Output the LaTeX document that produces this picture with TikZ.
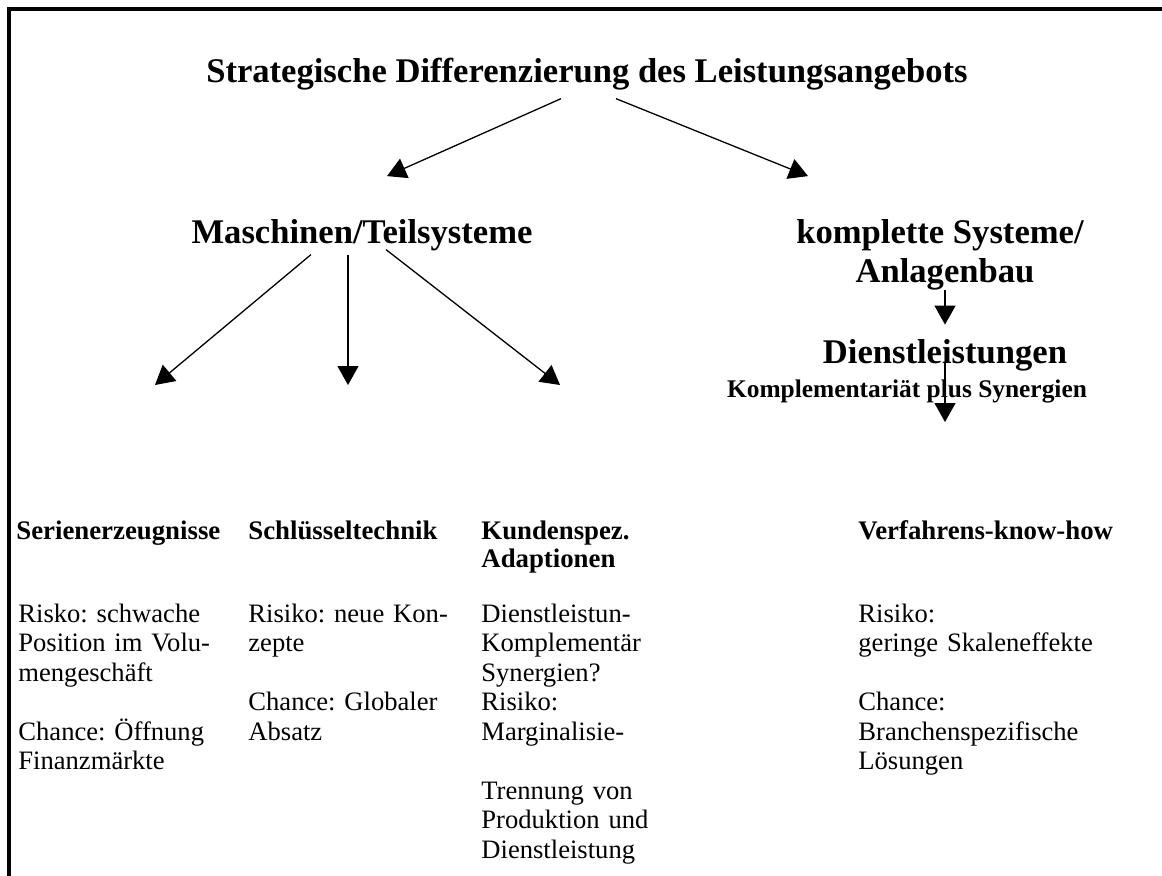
\documentclass[tikz,border=0pt]{standalone}
\usepackage{fontspec}
\setmainfont{Liberation Serif}
\usetikzlibrary{arrows.meta}
\frenchspacing

\begin{document}
\begin{tikzpicture}[x=0.5pt, y=-0.5pt,
    kopf/.style={font=\bfseries\fontsize{17.3}{20}\selectfont, inner sep=0pt, anchor=base},
    spalte/.style={font=\bfseries\fontsize{13.4}{14}\selectfont, inner sep=0pt, anchor=base west, text width=150pt, align=left},
    rumpf/.style={font=\fontsize{13.3}{14.75}\selectfont, inner sep=0pt, anchor=base west, text width=130pt, align=left},
    pfeil/.style={-{Triangle[length=9.5pt,width=10.5pt]}, line width=0.65pt}]

    \useasboundingbox (0,0) rectangle (1162,875);

    % rahmen
    \draw[line width=2.2pt] (8.8,900) -- (8.8,8.8) -- (1200,8.8);

    % oberste ebene
    \node[kopf] (titel) at (587,82) {Strategische Differenzierung des Leistungsangebots};
    \node[kopf] (maschinen) at (362,243) {Maschinen/Teilsysteme};
    \node[kopf] (komplett) at (940,243) {komplette Systeme/};
    \node[kopf] (anlagen) at (945,282) {Anlagenbau};
    \node[kopf] (dienst) at (945,363) {Dienstleistungen};
    \node[kopf, font=\bfseries\fontsize{12.7}{14}\selectfont] (synergie) at (907,397) {Komplementariät plus Synergien};

    \draw[pfeil] ([xshift=-13pt,yshift=-4.3pt]titel.south) -- ([xshift=12.5pt,yshift=21.25pt]maschinen.north);
    \draw[pfeil] ([xshift=14.5pt,yshift=-4.3pt]titel.south) -- ([xshift=-66pt,yshift=21.25pt]komplett.north);

    % maschinen
    \coordinate (serie) at (155,385);
    \coordinate (schluessel) at (348,385);
    \coordinate (kunde) at (560,385);
    \draw[pfeil] ([xshift=-25.5pt,yshift=-1.85pt]maschinen.south) -- (serie);
    \draw[pfeil] ([xshift=-7pt,yshift=-1.85pt]maschinen.south) -- (schluessel);
    \draw[pfeil] ([xshift=12pt,yshift=0.65pt]maschinen.south) -- (kunde);

    % anlagenbau
    \coordinate (verfahren) at (945,422);
    \draw[pfeil] (anlagen.south) -- ([yshift=7pt]dienst.north);
    \draw[pfeil] (dienst.base) -- (verfahren);

    % spalten
    \node[spalte] (hserie) at (16,539) {Serienerzeugnisse};
    \node[spalte] (hschluessel) at (248,539) {Schlüsseltechnik};
    \node[spalte] (hkunde) at (481,539) {Kundenspez.\\Adaptionen};
    \node[spalte] (hverfahren) at (858,539) {Verfahrens-know-how};

    \node[rumpf] (tserie) at (18,622) {Risko: schwache\\Position im Volu-\\mengeschäft\\[14.75pt]Chance: Öffnung\\Finanzmärkte};
    \node[rumpf] (tschluessel) at (248,622) {Risiko: neue Kon-\\zepte\\[14.75pt]Chance: Globaler\\Absatz};
    \node[rumpf] (tkunde) at (481,622) {Dienstleistun-\\Komplementär\\Synergien?\\Risiko:\\Marginalisie-\\[14.75pt]Trennung von\\Produktion und\\Dienstleistung};
    \node[rumpf] (tverfahren) at (858,622) {Risiko:\\geringe Skaleneffekte\\[14.75pt]Chance:\\Branchenspezifische\\Lösungen};
\end{tikzpicture}
\end{document}
